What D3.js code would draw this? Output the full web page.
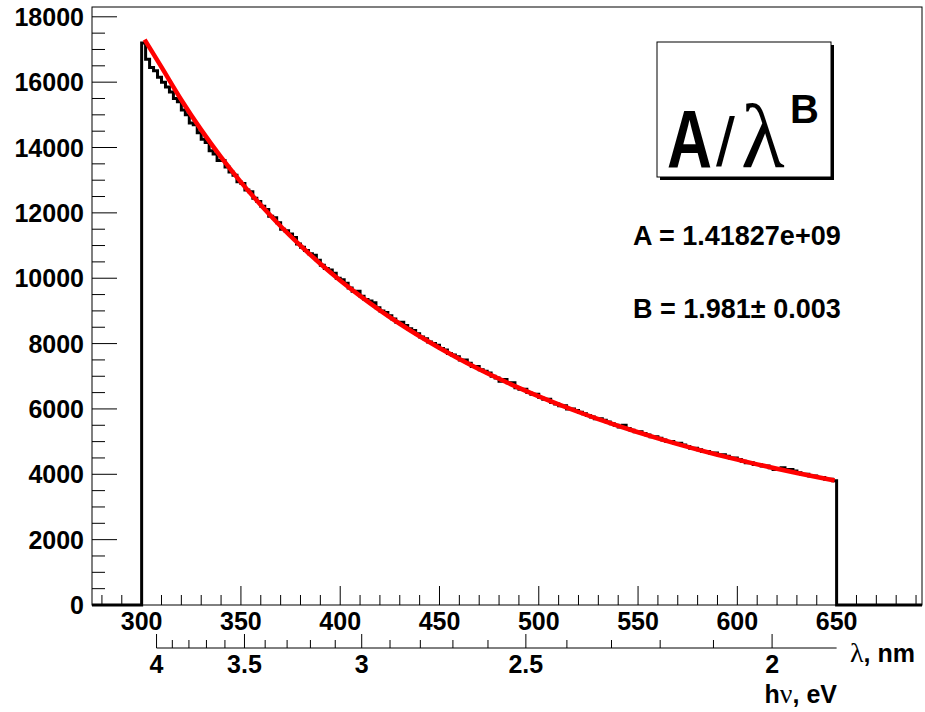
<!DOCTYPE html>
<html><head><meta charset="utf-8">
<script src="https://cdn.jsdelivr.net/npm/d3@7"></script>
<style>
body{margin:0;background:#fff}
svg{display:block}
text{font-family:"Liberation Sans",Arial,Helvetica,sans-serif;font-weight:bold;fill:#000}
</style>
</head><body>
<svg id="chart" width="925" height="712"></svg>
<script>
// ---------------- data ----------------
const binLow = 300, binWidth = 2;   // histogram bins 300..650 nm
const counts = [
17200,16700,16450,16350,16150,16000,15850,15700,15500,15400,
15150,15000,14750,14700,14450,14250,14150,13900,13800,13600,
13600,13400,13250,13150,12950,12900,12700,12650,12450,12350,
12200,12100,11900,11850,11700,11500,11450,11350,11250,11050,
10950,10850,10750,10700,10550,10400,10300,10250,10150,10000,
9950,9850,9700,9600,9600,9450,9350,9300,9250,9100,
9000,8950,8850,8750,8650,8650,8550,8450,8400,8300,
8200,8150,8050,8000,7950,7850,7800,7700,7650,7600,
7500,7500,7400,7300,7300,7200,7150,7100,7000,6950,
6850,6900,6800,6800,6650,6600,6600,6500,6450,6450,
6350,6300,6300,6200,6150,6100,6100,6000,6000,5950,
5900,5850,5800,5750,5700,5700,5650,5600,5550,5500,
5450,5500,5400,5350,5300,5300,5250,5200,5150,5150,
5100,5050,5000,5000,4950,4950,4900,4850,4800,4800,
4750,4700,4700,4650,4650,4600,4600,4550,4500,4500,
4450,4400,4350,4350,4300,4300,4250,4250,4200,4150,
4150,4200,4150,4150,4100,4050,4000,4000,3950,3950,
3900,3900,3850,3850,3800
];
const fitLambda = [301.5,310,320,330,340,350,360,370,380,390,400,410,420,430,440,450,460,470,480,490,500,510,520,530,540,550,560,570,580,590,600,610,620,630,640,649];
const fitValues = [17300,16458,15455,14540,13706,12940,12239,11591,10996,10444,9933,9459,9018,8607,8224,7866,7531,7216,6921,6645,6384,6138,5906,5688,5481,5286,5100,4924,4757,4599,4448,4304,4169,4039,3915,3810];
const lambdaMajorTicks = [300,350,400,450,500,550,600,650];
const yMajorTicks = [0,2000,4000,6000,8000,10000,12000,14000,16000,18000];
const eVMajorTicks = [4,3.5,3,2.5,2];
const eVMinorTicks = [3.9,3.8,3.7,3.6,3.4,3.3,3.2,3.1,2.9,2.8,2.7,2.6,2.4,2.3,2.2,2.1];
const fitParamLines = ["A = 1.41827e+09", "B = 1.981\u00b1 0.003"];
const hc = 1240;             // eV*nm
const eVAxisShiftNm = 2.5;   // eV axis drawn slightly left in the reference

// ---------------- layout ----------------
const svg = d3.select("#chart");
const frame = {left: 92, right: 922, top: 7, bottom: 605};
const x = d3.scaleLinear().domain([275, 693]).range([frame.left, frame.right]);
const y = d3.scaleLinear().domain([0, 18300]).range([frame.bottom, frame.top]);
const serif = "'Liberation Serif','DejaVu Serif',serif";

svg.append("rect").attr("width", 925).attr("height", 712).attr("fill", "#fff");

// frame
svg.append("rect")
  .attr("x", frame.left).attr("y", frame.top)
  .attr("width", frame.right - frame.left).attr("height", frame.bottom - frame.top)
  .attr("fill", "none").attr("stroke", "#000").attr("stroke-width", 1);

// Y axis ticks
const yMinor = d3.range(0, 18001, 500).filter(v => v % 2000 !== 0);
svg.append("g").selectAll("line").data(yMinor).join("line")
  .attr("x1", frame.left).attr("x2", frame.left + 13)
  .attr("y1", d => y(d)).attr("y2", d => y(d))
  .attr("stroke", "#000").attr("stroke-width", 1);
svg.append("g").selectAll("line").data(yMajorTicks).join("line")
  .attr("x1", frame.left).attr("x2", frame.left + 25)
  .attr("y1", d => y(d)).attr("y2", d => y(d))
  .attr("stroke", "#000").attr("stroke-width", 1);
svg.append("g").selectAll("text").data(yMajorTicks).join("text")
  .attr("x", 84).attr("y", d => y(d) + 9)
  .attr("text-anchor", "end").attr("font-size", 25)
  .text(d => d3.format("d")(d));

// X (lambda) axis ticks
const xMinor = d3.range(280, 691, 10).filter(v => v % 50 !== 0);
svg.append("g").selectAll("line").data(xMinor).join("line")
  .attr("x1", d => x(d)).attr("x2", d => x(d))
  .attr("y1", frame.bottom).attr("y2", frame.bottom - 10)
  .attr("stroke", "#000").attr("stroke-width", 1);
svg.append("g").selectAll("line").data(lambdaMajorTicks).join("line")
  .attr("x1", d => x(d)).attr("x2", d => x(d))
  .attr("y1", frame.bottom).attr("y2", frame.bottom - 19)
  .attr("stroke", "#000").attr("stroke-width", 1);
svg.append("g").selectAll("text").data(lambdaMajorTicks).join("text")
  .attr("x", d => x(d)).attr("y", 630)
  .attr("text-anchor", "middle").attr("font-size", 25)
  .text(d => d);

// axis title lambda
const lt = svg.append("text").attr("x", 850).attr("y", 662).attr("font-size", 25);
lt.append("tspan").style("font-family", serif).style("font-weight", "normal").style("font-size", "28px").text("\u03bb");
lt.append("tspan").text(", nm");

// eV axis
const eVx = e => x(hc / e - eVAxisShiftNm);
const eVy = 648;
const eVg = svg.append("g");
eVg.append("line")
  .attr("x1", eVx(4)).attr("x2", x(650))
  .attr("y1", eVy).attr("y2", eVy)
  .attr("stroke", "#000").attr("stroke-width", 1);
eVg.selectAll("line.mi").data(eVMinorTicks).join("line").attr("class", "mi")
  .attr("x1", d => eVx(d)).attr("x2", d => eVx(d))
  .attr("y1", eVy).attr("y2", eVy - 8)
  .attr("stroke", "#000").attr("stroke-width", 1);
eVg.selectAll("line.ma").data(eVMajorTicks).join("line").attr("class", "ma")
  .attr("x1", d => eVx(d)).attr("x2", d => eVx(d))
  .attr("y1", eVy).attr("y2", eVy - 14)
  .attr("stroke", "#000").attr("stroke-width", 1);
eVg.selectAll("text").data(eVMajorTicks).join("text")
  .attr("x", d => eVx(d)).attr("y", 673)
  .attr("text-anchor", "middle").attr("font-size", 25)
  .text(d => d);
const et = svg.append("text").attr("x", 837).attr("y", 703).attr("text-anchor", "end").attr("font-size", 25);
et.append("tspan").text("h");
et.append("tspan").style("font-family", serif).style("font-weight", "normal").style("font-size", "28px").text("\u03bd");
et.append("tspan").text(", eV");

// histogram (step line)
const histPts = [{l: 275, v: 0}];
counts.forEach((c, i) => histPts.push({l: binLow + i * binWidth, v: c}));
histPts.push({l: binLow + counts.length * binWidth, v: 0});
histPts.push({l: 693, v: 0});
const stepLine = d3.line().x(d => x(d.l)).y(d => y(d.v)).curve(d3.curveStepAfter);
svg.append("path").datum(histPts)
  .attr("d", stepLine).attr("fill", "none")
  .attr("stroke", "#000").attr("stroke-width", 3).attr("stroke-linejoin", "miter");

// fit curve
const fitPts = fitLambda.map((l, i) => ({l, v: fitValues[i]}));
svg.append("path").datum(fitPts)
  .attr("d", d3.line().x(d => x(d.l)).y(d => y(d.v)).curve(d3.curveMonotoneX))
  .attr("fill", "none").attr("stroke", "#ff0000").attr("stroke-width", 4.5);

// legend box
const box = {x: 657, y: 42, w: 174, h: 135};
svg.append("rect").attr("x", box.x + 3).attr("y", box.y + 3).attr("width", box.w).attr("height", box.h).attr("fill", "#000");
svg.append("rect").attr("x", box.x).attr("y", box.y).attr("width", box.w).attr("height", box.h)
  .attr("fill", "#fff").attr("stroke", "#000").attr("stroke-width", 1);
svg.append("g").attr("transform", "translate(667,167) scale(0.76,1)")
  .append("text").style("font-size", "82px").text("A");
const formula = svg.append("text").attr("y", 166);
formula.append("tspan").attr("x", 716).style("font-size", "68px").style("font-weight", "normal").text("/");
formula.append("tspan").attr("x", 741).attr("dy", 1).style("font-size", "90px").style("font-family", serif).style("font-weight", "normal").text("\u03bb");
formula.append("tspan").attr("x", 790).attr("dy", -44).style("font-size", "40px").text("B");

// fit parameters
svg.append("g").selectAll("text").data(fitParamLines).join("text")
  .attr("x", 633).attr("y", (d, i) => 245 + i * 73)
  .attr("font-size", 27)
  .text(d => d);
</script>
</body></html>
